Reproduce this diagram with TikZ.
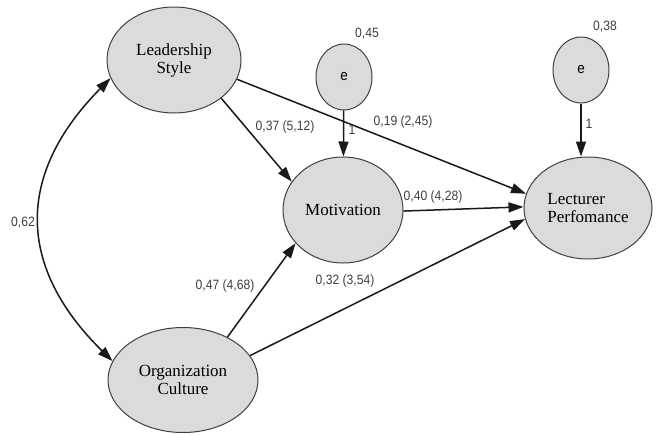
\documentclass[tikz,border=0pt]{standalone}
\usepackage{fontspec}
\setmainfont{Liberation Serif}
\newfontfamily\nodefont{LiberationSerif-Regular.ttf}
\newfontfamily\lblfont[FakeStretch=0.9]{Liberation Sans}
\usetikzlibrary{shapes.geometric,arrows.meta}

\begin{document}
\begin{tikzpicture}[x=1pt,y=-1pt,
  >={Triangle[length=15pt,width=10pt]},
  latent/.style={ellipse, draw=black!75, line width=1pt, fill=black!14,
    inner sep=0pt, align=center, font=\nodefont\fontsize{17}{18}\selectfont},
  errnode/.style={latent, font=\lblfont\fontsize{15}{15}\selectfont},
  regpath/.style={->, line width=1.5pt, draw=black!90},
  coef/.style={inner sep=0pt, text=black!75, font=\lblfont\fontsize{13.5}{14}\selectfont}]

  % canvas
  \fill[white] (0,0) rectangle (658,434);
  \useasboundingbox (0,0) rectangle (658,434);

  % latent constructs
  \node[latent, minimum width=134pt, minimum height=106pt] (LS) at (174,60) {Leadership\\Style};
  \node[latent, minimum width=120pt, minimum height=106pt] (Mot) at (343,210) {Motivation};
  \node[latent, minimum width=128pt, minimum height=102pt, align=left] (LP) at (588,208) {Lecturer\\Perfomance};
  \node[latent, minimum width=150pt, minimum height=105pt] (OC) at (183,380) {Organization\\Culture};

  % error terms
  \node[errnode, minimum width=56pt, minimum height=66pt] (e1) at (344,77) {e};
  \node[errnode, minimum width=56pt, minimum height=66pt] (e2) at (581,70) {e};

  % structural paths
  \draw[regpath] (LS.-39) -- (Mot.151.6);
  \draw[regpath] (LS.-17) -- (LP.167);
  \draw[regpath] (Mot.-1) -- (LP.179);
  \draw[regpath] (OC.44) -- (Mot.215);
  \draw[regpath] (OC.20) -- (LP.190.5);
  \draw[regpath] (e1) -- (Mot);
  \draw[regpath] (e2.south) -- (e2.south |- LP.north);

  % covariance between the exogenous constructs
  \draw[regpath, <->] (LS.196) .. controls (16,174) and (16,266) .. (OC.165.8);

  % estimates
  \node[coef] (v1) at (367,34) {0,45};
  \node[coef] (v2) at (605,27) {0,38};
  \node[coef] (f1) at (352,130) {1};
  \node[coef] (f2) at (589,124) {1};
  \node[coef] (c1) at (403,122) {0,19 (2,45)};
  \node[coef] (c2) at (285,127) {0,37 (5,12)};
  \node[coef] (c3) at (433,197) {0,40 (4,28)};
  \node[coef] (c4) at (225,286) {0,47 (4,68)};
  \node[coef] (c5) at (345,281) {0,32 (3,54)};
  \node[coef] (c6) at (23,223) {0,62};
\end{tikzpicture}
\end{document}
